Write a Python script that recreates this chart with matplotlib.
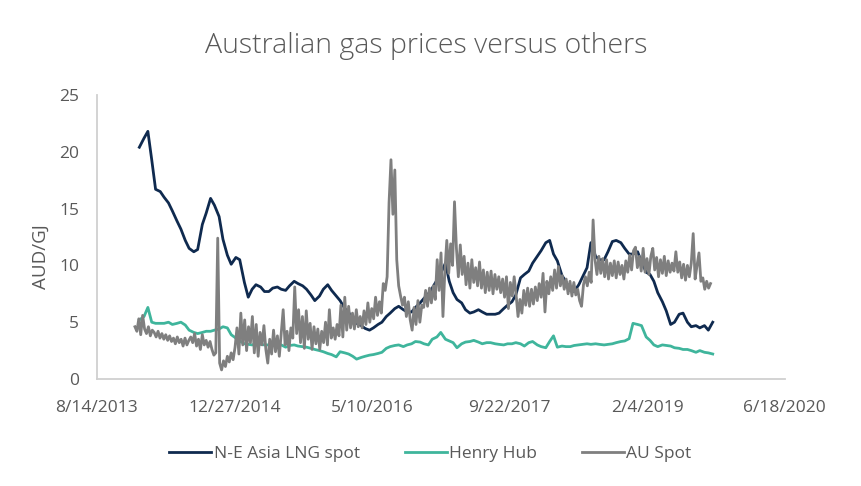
import matplotlib
matplotlib.use("Agg")
import matplotlib.pyplot as plt
import pandas as pd

plt.rcParams['font.family'] = ['Open Sans', 'DejaVu Sans']

title = "Australian gas prices versus others"
y_label = "AUD/GJ"
series_names = ["N-E Asia LNG spot", "Henry Hub", "AU Spot"]

# N-E Asia LNG spot, semi-monthly from 2014-01-15
lng_start = "2014-01-15"
lng_values = [
    20.4, 21.2, 21.8, 19.3, 16.7, 16.5, 16.0, 15.5, 14.8, 13.9, 13.2, 12.2, 11.5, 11.2, 11.4, 13.6, 14.6, 15.9, 15.3, 14.3, 12.3, 10.9, 10.1,
    10.7, 10.5, 8.5, 7.2, 7.9, 8.3, 8.1, 7.7, 7.7, 8.0, 8.1, 7.9, 7.8, 8.2, 8.6, 8.4, 8.2, 7.9, 7.4, 6.9, 7.3, 7.9, 8.3, 7.8,
    7.3, 6.9, 6.2, 5.9, 5.1, 4.9, 4.7, 4.45, 4.3, 4.5, 4.8, 5.0, 5.5, 5.8, 6.2, 6.4, 6.1, 5.9, 5.9, 6.3, 6.7, 7.1, 7.5, 8.0,
    8.7, 9.3, 10.2, 8.6, 7.6, 7.0, 6.7, 6.1, 5.8, 5.9, 6.1, 5.9, 5.7, 5.7, 5.7, 5.8, 6.2, 6.5, 6.8, 7.4, 8.9, 9.2, 9.5, 10.2,
    10.8, 11.3, 12.0, 12.2, 11.0, 10.4, 9.1, 8.6, 7.8, 7.7, 8.3, 9.0, 9.8, 12.0, 10.8, 10.5, 10.5, 11.2, 12.1, 12.2, 12.0, 11.5, 11.0, 11.0,
    11.2, 10.3, 9.4, 9.2, 8.6, 7.6, 6.8, 6.0, 4.8, 5.0, 5.7, 5.8, 5.0, 4.6, 4.7, 4.5, 4.7, 4.3, 5.0,
]

# Henry Hub, semi-monthly from 2014-01-15
hh_start = "2014-01-15"
hh_values = [
    5.2, 5.5, 6.3, 5.0, 4.9, 4.9, 4.9, 5.0, 4.8, 4.9, 5.0, 4.75, 4.3, 4.1, 4.0, 4.1, 4.2, 4.2, 4.3, 4.4, 4.6, 4.5, 3.9,
    3.6, 3.35, 3.1, 3.05, 3.0, 3.1, 3.05, 3.0, 3.0, 3.05, 3.1, 3.0, 2.8, 2.95, 3.0, 2.9, 2.85, 2.8, 2.7, 2.6, 2.5, 2.4, 2.25, 2.15,
    1.95, 2.4, 2.3, 2.2, 2.0, 1.75, 1.9, 2.0, 2.1, 2.15, 2.25, 2.35, 2.7, 2.85, 2.95, 3.0, 2.85, 3.0, 3.1, 3.3, 3.25, 3.1, 3.0, 3.5,
    3.7, 4.1, 3.5, 3.35, 3.2, 2.75, 3.1, 3.25, 3.3, 3.4, 3.25, 3.1, 3.2, 3.2, 3.1, 3.05, 3.0, 3.1, 3.1, 3.2, 3.1, 2.9, 3.2, 3.3,
    3.0, 2.85, 2.75, 3.3, 3.8, 2.8, 2.9, 2.85, 2.85, 2.95, 3.0, 3.05, 3.1, 3.05, 3.1, 3.05, 3.0, 3.05, 3.1, 3.2, 3.3, 3.35, 3.55, 4.9,
    4.8, 4.7, 3.7, 3.4, 3.0, 2.85, 3.0, 2.95, 2.9, 2.75, 2.7, 2.6, 2.6, 2.5, 2.35, 2.5, 2.35, 2.3, 2.2,
]

# AU Spot, weekly from 2013-12-30
au_start = "2013-12-30"
au_values = [
    4.6, 4.2, 5.3, 3.9, 5.6, 4.4, 4.0, 4.6, 3.8, 4.3,
    4.1, 3.7, 4.2, 3.6, 4.0, 3.5, 3.9, 3.4, 3.8, 3.3,
    3.6, 3.1, 3.7, 3.2, 3.5, 2.9, 3.6, 3.0, 3.4, 3.7,
    3.2, 4.0, 2.9, 3.5, 2.6, 3.9, 3.0, 3.4, 2.8, 3.3,
    2.6, 2.1, 2.3, 12.4, 1.4, 0.8, 1.6, 1.1, 2.0, 1.5,
    2.3, 1.7, 2.8, 4.5, 2.2, 5.8, 3.0, 5.2, 2.5, 4.6,
    3.2, 5.5, 2.3, 4.8, 2.0, 4.1, 3.0, 4.7, 2.6, 1.4,
    3.5, 2.2, 4.3, 2.4, 3.8, 2.0, 4.0, 6.1, 3.0, 4.2,
    2.5, 4.5, 3.6, 8.1, 4.0, 6.1, 3.2, 5.5, 2.7, 6.0,
    3.5, 4.9, 2.6, 4.6, 3.1, 4.4, 2.6, 4.2, 3.2, 5.0,
    3.0, 6.1, 3.6, 4.5, 3.5, 4.8, 3.8, 6.5, 3.7, 7.2,
    4.3, 6.4, 4.5, 5.8, 4.4, 6.1, 4.6, 5.5, 4.5, 6.0,
    4.8, 6.7, 5.0, 6.2, 5.3, 7.2, 5.6, 6.8, 5.8, 8.4,
    7.8, 9.0, 15.5, 19.3, 14.5, 18.4, 10.5, 8.2, 7.3, 6.5,
    7.2, 5.5, 6.8, 5.2, 4.3, 6.3, 4.8, 6.9, 5.0, 6.5,
    6.3, 7.8, 6.4, 8.0, 6.7, 8.2, 7.0, 10.5, 7.8, 11.1,
    5.5, 9.5, 12.2, 9.3, 11.9, 10.0, 15.6, 11.5, 9.0, 11.8,
    9.2, 10.8, 8.3, 10.2, 8.0, 10.5, 8.5, 9.8, 8.2, 10.3,
    8.0, 9.6, 7.6, 9.4, 7.8, 9.5, 7.5, 9.2, 7.9, 9.0,
    7.6, 8.8, 7.2, 9.0, 6.2, 8.5, 7.3, 9.0, 7.4, 5.5,
    7.0, 5.8, 7.8, 6.5, 8.0, 6.4, 7.9, 6.6, 8.1, 6.9,
    8.4, 7.2, 9.3, 5.9, 8.6, 7.5, 9.0, 7.8, 9.6, 8.0,
    9.9, 8.2, 9.1, 7.9, 8.8, 7.5, 8.6, 7.3, 8.5, 7.4,
    7.9, 6.9, 6.4, 8.3, 9.0, 8.2, 9.4, 8.5, 14.0, 10.5,
    9.2, 10.8, 9.3, 10.6, 9.0, 10.5, 8.8, 10.2, 9.1, 10.4,
    8.9, 10.3, 9.2, 10.0, 8.8, 10.4, 9.4, 10.9, 9.6, 11.3,
    11.6, 9.8, 10.8, 9.5, 11.5, 9.4, 10.6, 9.2, 10.8, 11.5,
    9.6, 10.7, 9.0, 10.5, 9.3, 10.8, 9.1, 10.4, 9.4, 10.2,
    9.5, 11.2, 9.4, 10.3, 8.9, 10.1, 8.7, 10.0, 9.0, 10.2,
    12.8, 8.8, 10.0, 11.1, 8.6, 8.9, 7.9, 8.6, 8.0, 8.4,
]

x_tick_dates = ["2013-08-14", "2014-12-27", "2016-05-10", "2017-09-22", "2019-02-04", "2020-06-18"]
y_ticks = [0, 5, 10, 15, 20, 25]

lng_dates = pd.date_range(lng_start, periods=len(lng_values), freq="SMS")
hh_dates = pd.date_range(hh_start, periods=len(hh_values), freq="SMS")
au_dates = pd.date_range(au_start, periods=len(au_values), freq="7D")

c_lng = "#0f2a4f"
c_hh = "#3fb59c"
c_au = "#7f7f7f"
text_c = "#595959"

fig = plt.figure(figsize=(8.61, 4.86), dpi=100)
ax = fig.add_axes([97/861, 1-379/486, (784.5-97)/861, (379-95)/486])

ax.plot(lng_dates, lng_values, color=c_lng, lw=2.0, label=series_names[0], solid_joinstyle="round")
ax.plot(hh_dates, hh_values, color=c_hh, lw=2.0, label=series_names[1], solid_joinstyle="round")
ax.plot(au_dates, au_values, color=c_au, lw=2.0, label=series_names[2], solid_joinstyle="round")

xt = pd.to_datetime(x_tick_dates)
ax.set_xlim(xt[0], xt[-1])
ax.set_ylim(0, 25)
ax.set_xticks(xt)
ax.set_xticklabels([f"{d.month}/{d.day}/{d.year}" for d in xt])
ax.set_yticks(y_ticks)
ax.tick_params(axis="both", length=0, labelsize=12.5, colors=text_c)
ax.tick_params(axis="y", pad=13)
ax.tick_params(axis="x", pad=15)

for s in ["top", "right"]:
    ax.spines[s].set_visible(False)
for s in ["left", "bottom"]:
    ax.spines[s].set_color("#d0d0d0")
    ax.spines[s].set_linewidth(1.3)

ax.set_ylabel(y_label, fontsize=13.5, color=text_c)
ax.yaxis.set_label_coords(-0.069, 0.43)
fig.suptitle(title, x=0.495, y=0.935, fontsize=20.5, color=text_c, fontweight="light")

leg = fig.legend(loc="center", bbox_to_anchor=(0.5, 1 - 454/486), ncol=3, frameon=False,
                 fontsize=12.5, handlelength=2.4, handletextpad=0.15, columnspacing=2.6)
for t in leg.get_texts():
    t.set_color(text_c)

fig.savefig("out.png", dpi=100)
